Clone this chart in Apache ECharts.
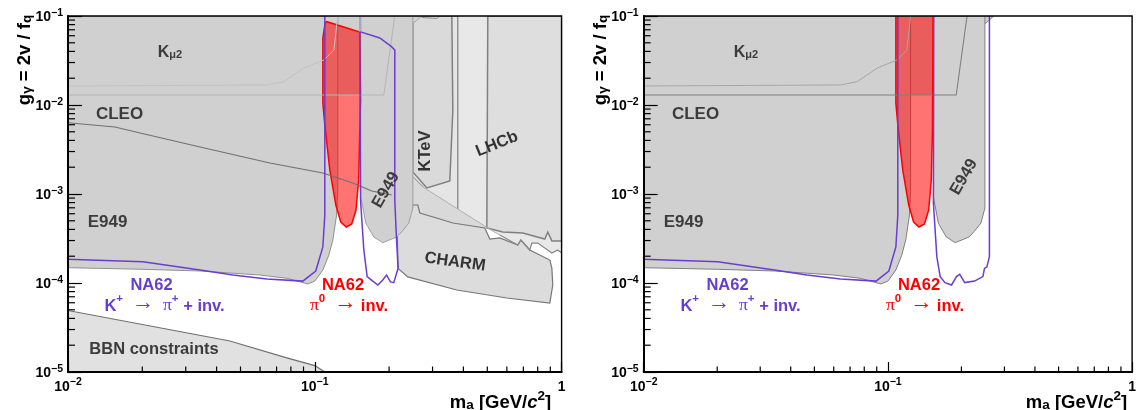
<!DOCTYPE html>
<html>
<head>
<meta charset="utf-8">
<script src="https://cdn.jsdelivr.net/npm/echarts@6/dist/echarts.min.js"></script>
<style>html,body{margin:0;padding:0;background:#fff}#main{width:1139px;height:410px}</style>
</head>
<body>
<div id="main"></div>
<script>
// ticks
var xTicks = [0.01, 0.1, 1];
var yTicks = [1e-5, 1e-4, 1e-3, 1e-2, 1e-1];
var xMinor = [0.02, 0.03, 0.04, 0.05, 0.06, 0.07, 0.08, 0.09, 0.2, 0.3, 0.4, 0.5, 0.6, 0.7, 0.8, 0.9];
var yMinor = [2e-5, 3e-5, 4e-5, 5e-5, 6e-5, 7e-5, 8e-5, 9e-5, 2e-4, 3e-4, 4e-4, 5e-4, 6e-4, 7e-4, 8e-4, 9e-4,
    2e-3, 3e-3, 4e-3, 5e-3, 6e-3, 7e-3, 8e-3, 9e-3, 2e-2, 3e-2, 4e-2, 5e-2, 6e-2, 7e-2, 8e-2, 9e-2];

// excluded regions, [ma, g] pairs, both panels
var e949Low = [[0.01, 0.1], [0.01, 1.486e-4], [0.0201, 1.426e-4], [0.0343, 1.365e-4], [0.0599, 1.23e-4], [0.077, 1.13e-4],
    [0.0937, 9.75e-5], [0.1, 1.05e-4], [0.1078, 1.4e-4], [0.114, 2.06e-4], [0.1183, 3.04e-4], [0.1224, 5.66e-4], [0.1239, 1.11e-3], [0.1239, 0.1]];
var e949High = [[0.1536, 0.1], [0.1536, 9.25e-4], [0.1609, 4.72e-4], [0.1734, 3.29e-4], [0.1886, 2.84e-4], [0.2149, 3.29e-4],
    [0.2252, 3.77e-4], [0.2404, 4.72e-4], [0.2496, 6.96e-4], [0.2496, 0.1]];
var kmu2 = [[0.01, 0.1], [0.2109, 0.1], [0.1904, 1.296e-2], [0.01, 1.296e-2]];
var upperCurve = [[0.01, 1.635e-2], [0.064, 1.68e-2], [0.0749, 1.83e-2], [0.0904, 2.6e-2], [0.1088, 3.2e-2], [0.1195, 4.15e-2], [0.1239, 0.1]];
var upperPatch = [[0.1536, 0.1], [0.155, 7.92e-2], [0.158, 6.44e-2], [0.1702, 5.96e-2], [0.2032, 6.12e-2], [0.2518, 8.34e-2], [0.2714, 0.1]];

// left panel only
var topBit = [[0.2714, 9.62e-2], [0.3122, 9.37e-2], [0.3211, 0.1]];
var cleo = [[0.01, 6.33e-3], [0.0155, 5.66e-3], [0.0196, 4.84e-3], [0.0343, 3.37e-3], [0.0657, 2.23e-3], [0.1078, 1.72e-3],
    [0.1425, 1.33e-3], [0.1702, 1.08e-3], [0.2051, 9.75e-4]];
var bbn = [[0.01, 4.91e-5], [0.0453, 2.23e-5], [0.077, 1.44e-5], [0.1, 1.18e-5], [0.1098, 1e-5], [0.01, 1e-5]];
var charm = [[0.2129, 1.63e-3], [0.2273, 1.72e-3], [0.2273, 1.11e-3], [0.2315, 8.57e-4], [0.2472, 6.61e-4], [0.2496, 7.52e-4],
    [0.2614, 7.52e-4], [0.2664, 6.12e-4], [0.3211, 5.24e-4], [0.3625, 4.72e-4], [0.4885, 4.15e-4], [0.5118, 3.12e-4],
    [0.5617, 3.21e-4], [0.6646, 2.67e-4], [0.6835, 3.04e-4], [0.7433, 2.35e-4], [0.896, 1.81e-4], [0.913, 1.47e-4],
    [0.921, 9.5e-5], [0.896, 5.96e-5], [0.5998, 6.78e-5], [0.3762, 8.34e-5], [0.2381, 1.17e-4], [0.2175, 1.46e-4]];
var lightZone = [[0.2129, 0.1], [0.2149, 5.24e-3], [0.221, 3.37e-3], [0.2273, 1.72e-3], [0.2273, 1.11e-3], [0.2315, 8.57e-4],
    [0.2472, 6.61e-4], [0.2664, 6.12e-4], [0.3211, 5.24e-4], [0.3625, 4.72e-4], [0.4885, 4.15e-4],
    [0.5617, 3.46e-4], [0.6646, 2.67e-4], [0.6835, 3.04e-4], [0.7433, 2.35e-4], [0.7574, 2.81e-4], [0.801, 2.81e-4],
    [0.913, 2.17e-4], [0.965, 2.35e-4], [1, 2.17e-4], [1, 0.1]];
var lightEdge = [[0.5617, 3.46e-4], [0.6646, 2.67e-4], [0.6835, 3.04e-4], [0.7433, 2.35e-4], [0.7574, 2.81e-4], [0.801, 2.81e-4],
    [0.913, 2.17e-4], [0.965, 2.35e-4], [1, 2.17e-4]];
var wedge = [[0.221, 1.96e-3], [0.2496, 1.55e-3], [0.274, 1.2e-3], [0.5023, 4.15e-4], [0.4885, 4.15e-4], [0.3625, 4.72e-4], [0.3211, 5.24e-4],
    [0.2664, 6.12e-4], [0.2472, 6.61e-4], [0.2315, 8.57e-4], [0.2273, 1.11e-3], [0.2273, 1.72e-3]];
var diagonal = [[0.274, 1.2e-3], [0.5023, 4.15e-4], [0.5617, 3.46e-4]];
var beamDump = [[0.2169, 0.1], [0.2169, 4.84e-3], [0.221, 1.96e-3], [0.2496, 1.55e-3], [0.274, 1.2e-3], [0.2843, 1.03e-3],
    [0.298, 7.52e-4], [0.3302, 5.52e-4], [0.3591, 4.84e-4], [0.3797, 4.84e-4], [0.3797, 0.1]];
var lhcb = [[0.5023, 0.1], [0.4978, 4.15e-4], [0.5778, 3.74e-4], [0.6963, 3.65e-4], [0.855, 3.12e-4], [0.879, 3.74e-4],
    [0.913, 2.97e-4], [1, 2.97e-4], [1, 0.1]];
var ktev = [[0.2496, 0.1], [0.2496, 1.77e-3], [0.2843, 1.17e-3], [0.3524, 1.4e-3], [0.3625, 8.79e-3], [0.3591, 0.1]];

// NA62 pi0 -> inv
var redLeft = [[0.1098, 8.34e-2], [0.1118, 8.63e-2], [0.1522, 6.61e-2], [0.1532, 1.14e-2], [0.1522, 5.24e-3], [0.1506, 1.44e-3],
    [0.1469, 6.6e-4], [0.1412, 4.6e-4], [0.1342, 4.26e-4], [0.1274, 4.84e-4], [0.1217, 7.52e-4], [0.115, 1.86e-3],
    [0.1098, 5.96e-3], [0.1078, 1.05e-2], [0.1078, 5.66e-2], [0.1098, 7.92e-2]];
var redRight = [[0.1078, 0.12], [0.1078, 1.05e-2], [0.1098, 5.96e-3], [0.115, 1.86e-3], [0.1217, 7.52e-4], [0.1274, 4.84e-4],
    [0.1342, 4.26e-4], [0.1412, 4.6e-4], [0.1469, 6.6e-4], [0.1506, 1.44e-3], [0.1522, 5.24e-3], [0.1532, 0.12]];

// NA62 K+ -> pi+ + inv
var kaonLow = [[0.01, 1.846e-4], [0.0201, 1.735e-4], [0.0343, 1.4e-4], [0.0466, 1.23e-4], [0.064, 1.11e-4], [0.0894, 1.05e-4],
    [0.1009, 1.365e-4], [0.1078, 2.54e-4], [0.1098, 5.81e-4], [0.1098, 0.1]];
var kaonHighLeft = [[0.1522, 6.67e-2], [0.1532, 8.57e-4], [0.158, 2.35e-4], [0.163, 1.18e-4], [0.1718, 1.05e-4], [0.18, 9.5e-5],
    [0.1886, 1.08e-4], [0.1952, 1.23e-4], [0.2027, 1.03e-4], [0.209, 1.01e-4], [0.2175, 1.47e-4], [0.2144, 3.04e-4],
    [0.2109, 8.57e-4], [0.2109, 4.15e-2], [0.2045, 4.52e-2], [0.1834, 5.66e-2], [0.1522, 6.67e-2]];
var kaonPale = [[0.1522, 0.1], [0.1522, 6.67e-2]];
var kaonHighRight = [[0.1541, 0.1], [0.1536, 7.93e-4], [0.1586, 1.98e-4], [0.1637, 1.18e-4], [0.1712, 1.01e-4], [0.1822, 9.5e-5],
    [0.1909, 1.18e-4], [0.1969, 1.25e-4], [0.2063, 1.01e-4], [0.2264, 1.05e-4], [0.2449, 1.18e-4], [0.2486, 1.46e-4],
    [0.2543, 1.52e-4], [0.2604, 1.98e-4], [0.2604, 0.1]];

var PURPLE = '#6a3dd1';
var FONT = '"Liberation Sans", Arial, sans-serif';

function region(panel, pts, fill, stroke, width) {
    return {
        type: 'custom', coordinateSystem: 'cartesian2d', xAxisIndex: panel, yAxisIndex: panel,
        clip: true, silent: true, z: 2, data: [pts[0]],
        renderItem: function (params, api) {
            return {
                type: 'polygon',
                shape: { points: pts.map(function (p) { return api.coord(p); }) },
                style: { fill: fill, stroke: stroke, lineWidth: width || 1 }
            };
        }
    };
}

function curve(panel, pts, stroke, width) {
    return {
        type: 'custom', coordinateSystem: 'cartesian2d', xAxisIndex: panel, yAxisIndex: panel,
        clip: true, silent: true, z: 3, data: [pts[0]],
        renderItem: function (params, api) {
            return {
                type: 'polyline',
                shape: { points: pts.map(function (p) { return api.coord(p); }) },
                style: { fill: 'none', stroke: stroke, lineWidth: width || 1 }
            };
        }
    };
}

// small ticks, the log axis can't draw them itself
function minorTicks(panel) {
    return {
        type: 'custom', coordinateSystem: 'cartesian2d', xAxisIndex: panel, yAxisIndex: panel,
        clip: false, silent: true, z: 12, data: [[0.1, 1e-3]],
        renderItem: function (params, api) {
            var kids = [];
            var style = { stroke: '#000', lineWidth: 1.2 };
            xMinor.forEach(function (v) {
                var p = api.coord([v, 1e-5]);
                kids.push({ type: 'line', shape: { x1: p[0], y1: p[1], x2: p[0], y2: p[1] - 5.5 }, style: style });
            });
            yMinor.forEach(function (v) {
                var p = api.coord([0.01, v]);
                kids.push({ type: 'line', shape: { x1: p[0], y1: p[1], x2: p[0] + 7, y2: p[1] }, style: style });
            });
            return { type: 'group', children: kids };
        }
    };
}

function tickLabel(v) {
    if (v === 1) return '{b|1}';
    return '{b|10}{s|\u2212' + Math.abs(Math.round(Math.log10(v))) + '}';
}

var tickRich = {
    b: { fontFamily: FONT, fontWeight: 'bold', fontSize: 14, color: '#000', lineHeight: 17, verticalAlign: 'bottom' },
    s: { fontFamily: FONT, fontWeight: 'bold', fontSize: 10.5, color: '#000', lineHeight: 17, verticalAlign: 'top' }
};

function xAxis(i) {
    return {
        type: 'log', logBase: 10, min: 0.01, max: 1, gridIndex: i, z: 12,
        axisLine: { onZero: false, lineStyle: { color: '#000', width: 2 } },
        axisTick: { inside: true, length: 10, lineStyle: { color: '#000', width: 1.2 } },
        splitLine: { show: false }, minorTick: { show: false },
        axisLabel: { margin: 5, formatter: tickLabel, rich: tickRich }
    };
}

function yAxis(i) {
    return {
        type: 'log', logBase: 10, min: 1e-5, max: 0.1, gridIndex: i, z: 12, splitNumber: 4,
        axisLine: { onZero: false, lineStyle: { color: '#000', width: 2 } },
        axisTick: { inside: true, length: 14, lineStyle: { color: '#000', width: 1.2 } },
        splitLine: { show: false }, minorTick: { show: false },
        axisLabel: { margin: 5, formatter: tickLabel, rich: tickRich }
    };
}

function note(text, x, y, size, color, rot, rich) {
    return {
        type: 'text', x: x, y: y, z: 20, silent: true, rotation: (rot || 0) * Math.PI / 180,
        style: {
            text: text, fill: color, font: 'bold ' + size + 'px ' + FONT,
            align: 'center', verticalAlign: 'middle', rich: rich
        }
    };
}

function script(color, size) {
    return {
        t: { font: 'bold ' + size + 'px ' + FONT, fill: color, lineHeight: size + 5, verticalAlign: 'bottom' },
        up: { font: 'bold ' + (size - 5) + 'px ' + FONT, fill: color, lineHeight: size + 5, verticalAlign: 'top' },
        dn: { font: 'bold ' + (size - 5) + 'px ' + FONT, fill: color, lineHeight: size + 5, verticalAlign: 'bottom' },
        g: { font: (size + 1) + 'px "Liberation Serif", serif', fill: color, lineHeight: size + 5, verticalAlign: 'bottom' },
        a: { font: (size + 6) + 'px "Liberation Serif", serif', fill: color, lineHeight: size + 5, verticalAlign: 'bottom' },
        i: { font: 'italic bold ' + size + 'px ' + FONT, fill: color, lineHeight: size + 5, verticalAlign: 'bottom' }
    };
}

function panelNotes(dx, e949x, e949y) {
    return [
        note('{t|K}{dn|\u03bc2}', 170 + dx, 50, 16, '#3c3c3c', 0, script('#3c3c3c', 16)),
        note('CLEO', 119.5 + dx, 114, 17, '#3c3c3c'),
        note('E949', 107.5 + dx, 222, 17, '#3c3c3c'),
        note('NA62', 151.5 + dx, 285, 16.5, PURPLE),
        note('{t|K}{up|+}{g|  }{a|\u2192}{g|  \u03c0}{up|+}{t| + inv.}', 164.5 + dx, 304, 16.5, PURPLE, 0, script(PURPLE, 16.5)),
        note('NA62', 343 + dx, 285, 16.5, '#ff0000'),
        note('{g|\u03c0}{up|0}{g|  }{a|\u2192}{g| }{t|inv.}', 349 + dx, 304, 16.5, '#ff0000', 0, script('#ff0000', 16.5)),
        note('E949', e949x, e949y, 16.5, '#3c3c3c', 60),
        // axis titles
        note('{t|m}{dn|a}{t| [GeV/}{i|c}{up|2}{t|]}', 500.5 + dx, 401, 18.5, '#000', 0, script('#000', 18.5)),
        note('{t|g}{dn|\u03b3}{t| = 2v / f}{dn|q}', 23 + dx, 60, 18.5, '#000', 90, script('#000', 18.5))
    ];
}

var leftSeries = [
    region(0, lightZone, '#e8e8e8', 'none'),
    region(0, beamDump, '#e5e5e5', '#808080', 1.2),
    region(0, wedge, '#d9d9d9', 'none'),
    curve(0, diagonal, '#b0b0b0', 1),
    curve(0, lightEdge, '#888888', 1.2),
    region(0, lhcb, '#dedede', '#808080', 1.5),
    region(0, charm, '#dcdcdc', '#777777', 1.2),
    region(0, ktev, '#dadada', '#808080', 1.5),
    region(0, bbn, '#e1e1e1', '#707070', 1.2),
    region(0, kmu2, '#cfcfcf', 'none'),
    region(0, upperPatch, '#cfcfcf', '#a8a8a8', 1),
    curve(0, topBit, '#909090', 1),
    region(0, e949Low, '#d0d0d0', '#909090', 1),
    region(0, e949High, '#d0d0d0', '#a0a0a0', 1),
    curve(0, kmu2, '#b4b4b4', 1),
    curve(0, upperCurve, '#c2c2c2', 1),
    curve(0, cleo, '#707070', 1.1),
    region(0, redLeft, 'rgba(255,0,0,0.55)', '#ff0000', 1.5),
    curve(0, kaonLow, PURPLE, 1.5),
    curve(0, kaonHighLeft, PURPLE, 1.5),
    curve(0, kaonPale, '#a99be0', 1.5),
    minorTicks(0)
];

var rightSeries = [
    region(1, kmu2, '#cfcfcf', 'none'),
    region(1, upperPatch, '#cfcfcf', '#888888', 1),
    region(1, e949Low, '#d0d0d0', '#808080', 1),
    region(1, e949High, '#d0d0d0', '#808080', 1),
    curve(1, kmu2, '#808080', 1.1),
    curve(1, upperCurve, '#a6a6a6', 1),
    region(1, redRight, 'rgba(255,0,0,0.55)', '#ff0000', 1.5),
    curve(1, kaonLow, PURPLE, 1.5),
    curve(1, kaonHighRight, PURPLE, 1.5),
    minorTicks(1)
];

var leftOnly = [
    note('BBN constraints', 154, 349, 16.5, '#3c3c3c'),
    note('KTeV', 425, 151, 16.5, '#333333', 90),
    note('LHCb', 497, 144, 16.5, '#333333', 22),
    note('CHARM', 455, 262, 16.5, '#333333', -8)
];

var chart = echarts.init(document.getElementById('main'));
chart.setOption({
    animation: false,
    backgroundColor: '#fff',
    grid: [
        { left: 68, top: 16, width: 493.6, height: 356, show: true, z: 10, backgroundColor: 'transparent', borderColor: '#000', borderWidth: 1.4 },
        { left: 643.7, top: 16, width: 493.6, height: 356, show: true, z: 10, backgroundColor: 'transparent', borderColor: '#000', borderWidth: 1.4 }
    ],
    xAxis: [xAxis(0), xAxis(1)],
    yAxis: [yAxis(0), yAxis(1)],
    series: leftSeries.concat(rightSeries),
    graphic: { elements: panelNotes(0, 386, 190).concat(panelNotes(576, 964, 177)).concat(leftOnly) }
});
</script>
</body>
</html>
